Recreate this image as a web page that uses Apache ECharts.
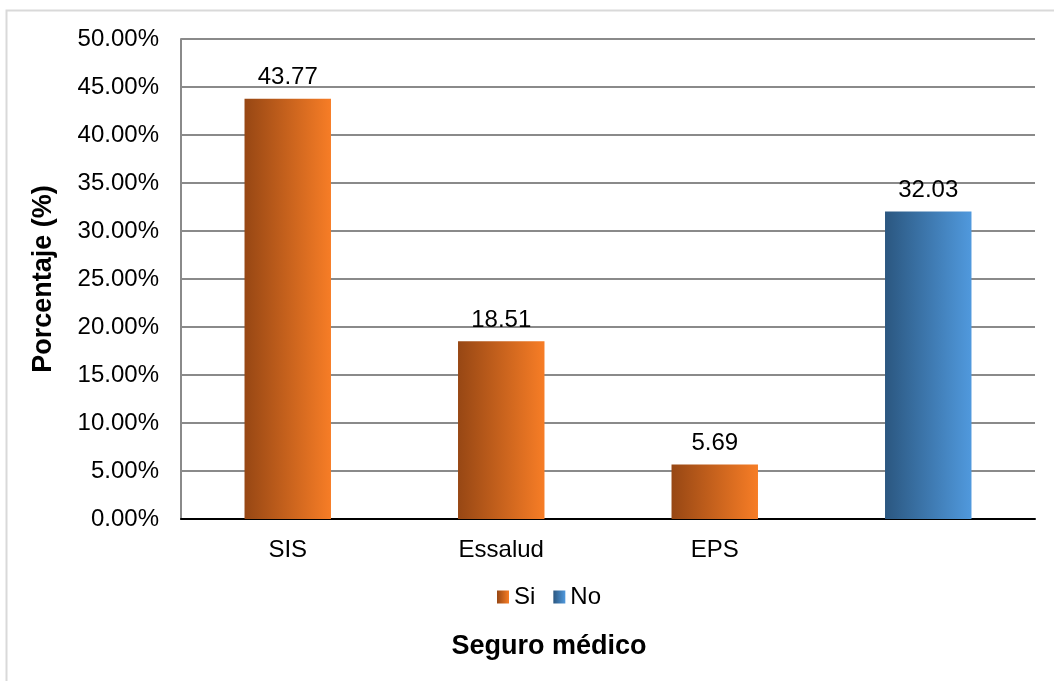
<!DOCTYPE html>
<html><head><meta charset="utf-8">
<script src="https://cdn.jsdelivr.net/npm/echarts@6/dist/echarts.min.js"></script>
<style>html,body{margin:0;padding:0;background:#fff}#c{width:1054px;height:681px}</style>
</head><body><div id="c"></div>
<script>
const categories = ['SIS', 'Essalud', 'EPS', ''];
const siValues = [43.77, 18.51, 5.69, null];
const noValues = [null, null, null, 32.03];
const seriesNames = ['Si', 'No'];
const yMin = 0, yMax = 50, yStep = 5;

const font = 'Liberation Sans, Arial, sans-serif';
function grad(c0, c1) {
  return new echarts.graphic.LinearGradient(0, 0, 1, 0, [{offset: 0, color: c0}, {offset: 1, color: c1}]);
}
const chart = echarts.init(document.getElementById('c'), null, {renderer: 'canvas'});
const labelCfg = {show: true, position: 'top', distance: 9, color: '#000', fontFamily: font, fontSize: 24,
  formatter: p => p.value == null ? '' : p.value.toFixed(2)};
chart.setOption({
  animation: false,
  title: {text: 'Seguro médico', left: 544, textAlign: 'center', top: 628,
    textStyle: {fontFamily: font, fontSize: 27, fontWeight: 'bold', color: '#000'}},
  graphic: [{type: 'rect', shape: {x: 6.5, y: 10.5, width: 1200, height: 800},
    style: {fill: 'none', stroke: '#d9d9d9', lineWidth: 2}, silent: true}],
  grid: {left: 181, right: 19, top: 39, bottom: 162, containLabel: false},
  legend: {top: 580, left: 492, itemWidth: 12, itemHeight: 13, itemGap: 18,
    icon: 'rect', textStyle: {fontFamily: font, fontSize: 24, color: '#000'},
    data: seriesNames},
  xAxis: {type: 'category', data: categories,
    axisLine: {lineStyle: {color: '#000', width: 2}}, axisTick: {show: false},
    axisLabel: {fontFamily: font, fontSize: 24, color: '#000', margin: 19}},
  yAxis: {type: 'value', min: yMin, max: yMax, interval: yStep,
    name: 'Porcentaje (%)', nameLocation: 'middle', nameGap: 124,
    nameTextStyle: {fontFamily: font, fontSize: 27, fontWeight: 'bold', color: '#000'},
    axisLine: {show: true, lineStyle: {color: '#8a8a8a', width: 2}}, axisTick: {show: false},
    splitLine: {lineStyle: {color: '#8a8a8a', width: 2}},
    axisLabel: {fontFamily: font, fontSize: 24, color: '#000', margin: 22,
      formatter: v => v.toFixed(2) + '%'}},
  series: [
    {name: seriesNames[0], type: 'bar', stack: 'a', data: siValues, barWidth: '40.5%',
      itemStyle: {color: grad('#974714', '#f77d26')}, label: labelCfg},
    {name: seriesNames[1], type: 'bar', stack: 'a', data: noValues, barWidth: '40.5%',
      itemStyle: {color: grad('#2b5780', '#5099dd')}, label: labelCfg}
  ]
});
</script></body></html>
